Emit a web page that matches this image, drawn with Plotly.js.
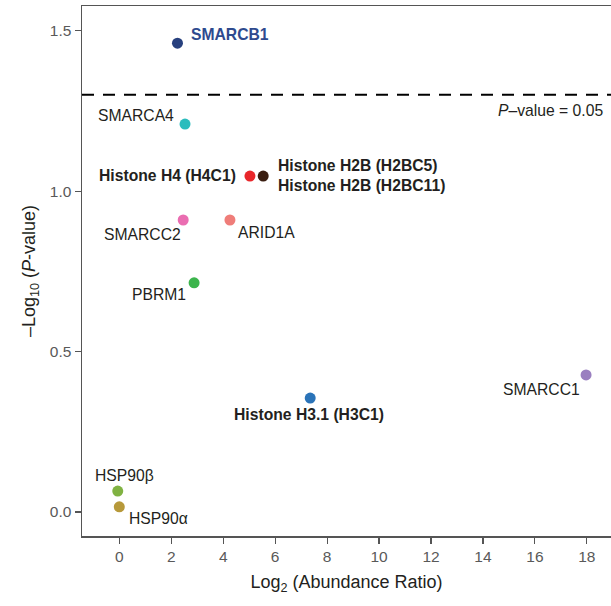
<!DOCTYPE html>
<html>
<head>
<meta charset="utf-8">
<script src="https://cdn.plot.ly/plotly-3.0.1.min.js"></script>
<style>html,body{margin:0;padding:0;background:#fff;}#chart{width:611px;height:606px;}</style>
</head>
<body>
<div id="chart"></div>
<script>
// Data
var labels = ["SMARCB1", "SMARCA4", "Histone H4 (H4C1)", "Histone H2B (H2BC5)<br>Histone H2B (H2BC11)",
              "SMARCC2", "ARID1A", "PBRM1", "Histone H3.1 (H3C1)", "SMARCC1", "HSP90β", "HSP90α"];
var log2Ratio = [2.24, 2.53, 5.03, 5.54, 2.46, 4.26, 2.88, 7.35, 17.97, -0.06, 0.0];
var negLog10P = [1.461, 1.209, 1.047, 1.047, 0.910, 0.910, 0.714, 0.355, 0.427, 0.065, 0.016];
var threshold = 1.3;
var xTicks = [0, 2, 4, 6, 8, 10, 12, 14, 16, 18];
var yTicks = [0.0, 0.5, 1.0, 1.5];
var yTickText = ["0.0", "0.5", "1.0", "1.5"];

// Styles
var colors = ["#27407e", "#2bbcbd", "#e8262a", "#3a1d10", "#ea6db1", "#ef7d79", "#3cb44c",
              "#2a73b8", "#9a7fc0", "#80b242", "#b7993a"];
var bold = [true, false, true, true, false, false, false, true, false, false, false];
var labelColor = ["#2e4a8e", "#231f20", "#231f20", "#231f20", "#231f20", "#231f20", "#231f20",
                  "#231f20", "#231f20", "#231f20", "#231f20"];
var anchor = ["left", "right", "right", "left", "right", "left", "right", "center", "right", "center", "left"];
var xs = [12, -9, -12, 13, 0, 6, -6, -1, -4, 7, 8];
var ys = [9, 9, 1, 1, -15, -13, -12, -16, -15, 16, -12];

var FONT = "Liberation Sans, Arial, sans-serif";

var trace = {
  x: log2Ratio, y: negLog10P, mode: "markers", type: "scatter",
  marker: {size: 11, color: colors, line: {width: 0}},
  hoverinfo: "skip", showlegend: false
};

var annotations = labels.map(function (t, i) {
  return {
    x: log2Ratio[i], y: negLog10P[i], xref: "x", yref: "y",
    text: bold[i] ? "<b>" + t + "</b>" : t,
    showarrow: false, xanchor: anchor[i], yanchor: "middle",
    xshift: xs[i], yshift: ys[i], align: "left",
    font: {family: FONT, size: 15.7, color: labelColor[i]}
  };
});
annotations.push({
  x: 1, xref: "paper", y: threshold, yref: "y",
  text: "<i>P</i>–value = 0.05", showarrow: false,
  xanchor: "right", yanchor: "middle", xshift: -6, yshift: -16,
  font: {family: FONT, size: 15.7, color: "#231f20"}
});

var layout = {
  width: 611, height: 606,
  margin: {l: 82, r: 0, t: 6, b: 70},
  paper_bgcolor: "#fff", plot_bgcolor: "#fff",
  font: {family: FONT},
  xaxis: {
    range: [-1.436, 18.93], tickvals: xTicks, ticktext: xTicks.map(String),
    showgrid: false, zeroline: false, showline: true, mirror: true,
    linecolor: "#555", linewidth: 1.5, ticks: "outside", ticklen: 6, tickwidth: 1.2, tickcolor: "#555",
    tickfont: {family: FONT, size: 15.5, color: "#595959"},
    title: {text: "Log<sub>2</sub> (Abundance Ratio)", font: {family: FONT, size: 18, color: "#231f20"}, standoff: 11}
  },
  yaxis: {
    range: [-0.075, 1.577], tickvals: yTicks, ticktext: yTickText,
    showgrid: false, zeroline: false, showline: true,
    linecolor: "#555", linewidth: 1.5, ticks: "outside", ticklen: 6, tickwidth: 1.2, tickcolor: "#555",
    tickfont: {family: FONT, size: 15.5, color: "#595959"},
    title: {text: "–Log<sub>10</sub> (<i>P</i>-value)", font: {family: FONT, size: 18, color: "#231f20"}, standoff: 9}
  },
  shapes: [{
    type: "line", xref: "paper", x0: 0, x1: 1, yref: "y", y0: threshold, y1: threshold,
    line: {color: "#000", width: 2, dash: "12px,9px"}
  }],
  annotations: annotations
};

Plotly.newPlot("chart", [trace], layout, {displayModeBar: false, staticPlot: true});
</script>
</body>
</html>
